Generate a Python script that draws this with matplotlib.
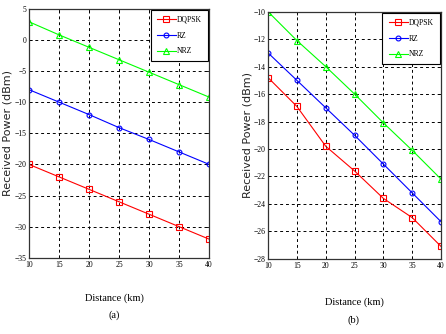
import matplotlib.pyplot as plt

distance = [10, 15, 20, 25, 30, 35, 40]

# panel (a)
dqpsk_a = [-20, -22, -24, -26, -28, -30, -32]
rz_a = [-8, -10, -12, -14.1, -16, -18, -20]
nrz_a = [2.9, 0.8, -1.2, -3.2, -5.2, -7.2, -9.2]

# panel (b)
dqpsk_b = [-14.8, -16.9, -19.8, -21.6, -23.6, -25.0, -27.1]
rz_b = [-13, -15, -17, -19, -21.1, -23.2, -25.3]
nrz_b = [-10, -12.1, -14, -16, -18.1, -20.1, -22.2]

plt.rcParams['font.family'] = ['Liberation Serif', 'DejaVu Serif']


def draw_panel(ax, dqpsk, rz, nrz, yticks):
    ax.plot(distance, dqpsk, color='#ff0000', marker='s', ms=4, mfc='none',
            mew=0.8, lw=0.8, label='DQPSK')
    ax.plot(distance, rz, color='#0000ff', marker='o', ms=3.5, mfc='none',
            mew=0.8, lw=0.8, label='RZ')
    ax.plot(distance, nrz, color='#00ff00', marker='^', ms=4, mfc='none',
            mew=0.8, lw=0.8, label='NRZ')

    ax.set_xlim(10, 40)
    ax.set_ylim(yticks[0], yticks[-1])
    ax.set_xticks(distance)
    ax.set_yticks(yticks)
    ax.grid(True, color='black', linestyle=(0, (3, 3)), linewidth=0.7)
    ax.tick_params(labelsize=5.5, length=2, width=0.6, direction='in',
                   top=True, right=True, pad=2)
    for s in ax.spines.values():
        s.set_linewidth(0.9)
        s.set_color('#333333')

    ax.set_ylabel('Received Power (dBm)', fontsize=8, family='DejaVu Sans',
                  color='#222222')

    leg = ax.legend(loc='upper right', fontsize=5.5, handlelength=2.5,
                    handletextpad=0.15, borderpad=0.8, labelspacing=1.0,
                    fancybox=False, edgecolor='black', framealpha=1,
                    borderaxespad=0.15)
    leg.get_frame().set_linewidth(0.8)


fig = plt.figure(figsize=(4.46, 3.34), dpi=100)
ax1 = fig.add_axes([0.065, 0.228, 0.404, 0.746])
ax2 = fig.add_axes([0.601, 0.225, 0.388, 0.740])

draw_panel(ax1, dqpsk_a, rz_a, nrz_a, list(range(-35, 6, 5)))
draw_panel(ax2, dqpsk_b, rz_b, nrz_b, list(range(-28, -9, 2)))
ax1.yaxis.set_label_coords(-0.092, 0.5)
ax2.yaxis.set_label_coords(-0.09, 0.5)

fig.text(114 / 446, 1 - 298 / 334, 'Distance (km)', fontsize=7.5,
         ha='center', va='center')
fig.text(114 / 446, 1 - 315 / 334, '(a)', fontsize=7.5, ha='center', va='center')
fig.text(354 / 446, 1 - 302 / 334, 'Distance (km)', fontsize=7.5,
         ha='center', va='center')
fig.text(354 / 446, 1 - 320 / 334, '(b)', fontsize=7.5, ha='center', va='center')

fig.savefig('out.png', dpi=100)
